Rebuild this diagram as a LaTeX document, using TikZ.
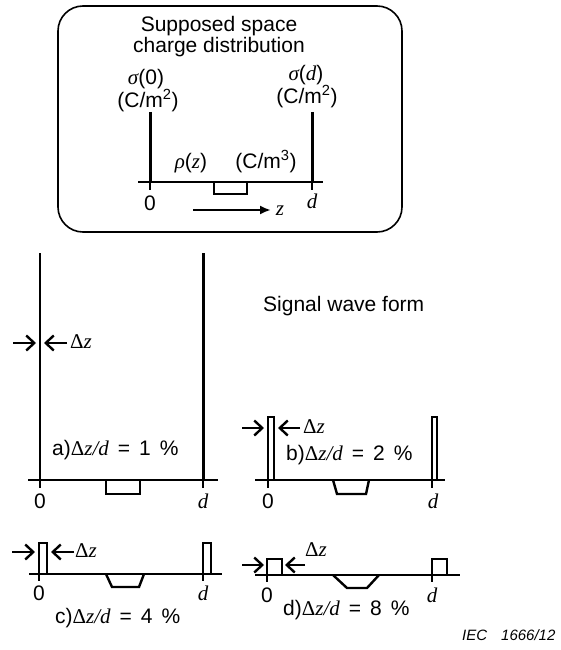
\documentclass[tikz,border=0pt]{standalone}
\usepackage{fontspec}
\setmainfont{Liberation Sans}
\newfontfamily\tms{Liberation Serif}
\usetikzlibrary{arrows.meta}
\newcommand{\vz}{{\tms\itshape z}}
\newcommand{\vd}{{\tms\itshape d}}
\newcommand{\dz}{{\tms Δ\itshape z}}
\newcommand{\dzd}{{\tms Δ\itshape z/d}}
\newcommand{\gap}{\hspace{9pt}}

\begin{document}
\begin{tikzpicture}[x=1pt,y=-1pt,
  lbl/.style={inner sep=0pt,anchor=base,font=\fontsize{21}{21}\selectfont},
  lbll/.style={lbl,anchor=base west},
  frame/.style={draw,line width=1.6pt,rounded corners=25pt,
    minimum width=344pt,minimum height=226pt},
  axis/.style={line width=2pt},
  tick/.style={line width=1.3pt},
  sheet/.style={line width=3pt},
  pulse/.style={line width=1.8pt},
  charge/.style={line width=2.4pt},
  pointer/.style={-{Straight Barb[length=8pt,width=15pt]},line width=2.4pt},
  zarrow/.style={-{Latex[length=11pt,width=9pt]},line width=2.6pt}
]
  \useasboundingbox (0,0) rectangle (560,650);

  % supposed distribution
  \node[frame] (box) at (230,119) {};
  \node[lbl] (title1) at (219,32) {Supposed space};
  \node[lbl] (title2) at (219,53) {charge distribution};
  \node[lbl] (sig0) at (146,85) {{\tms\itshape σ}(0)};
  \node[lbl] (unit0) at (148,107) {(C/m\textsuperscript{2})};
  \node[lbl] (sigd) at (306,81) {{\tms\itshape σ}({\tms\itshape d})};
  \node[lbl] (unitd) at (307,103) {(C/m\textsuperscript{2})};
  \node[lbl] (rho) at (191,168) {{\tms\itshape ρ}(\vz)};
  \node[lbl] (unitrho) at (266,168) {(C/m\textsuperscript{3})};
  \draw[axis] (138,182) -- (323,182);
  \draw[sheet] (150,112) -- (150,182);
  \draw[sheet] (312,112) -- (312,182);
  \draw[tick] (150,182) -- (150,190);
  \draw[tick] (312,182) -- (312,190);
  \draw[charge] (214,182) -- (214,194) -- (247,194) -- (247,182);
  \node[lbl] (zero0) at (150,210) {0};
  \node[lbl] (d0) at (312,208) {\vd};
  \coordinate (zfrom) at (193,210);
  \node[lbl] (zlab) at (280,215) {\vz};
  \draw[zarrow] (zfrom) -- (271,210);

  \node[lbll] (signal) at (263,311) {Signal wave form};

  % a) 1 %
  \draw[axis] (28,480) -- (218,480);
  \draw[line width=2.4pt] (40,253) -- (40,480);
  \draw[sheet] (203,253) -- (203,480);
  \draw[tick] (40,480) -- (40,488);
  \draw[tick] (203,480) -- (203,488);
  \draw[charge] (106,480) -- (106,494) -- (140,494) -- (140,480);
  \draw[pointer] (13,343) -- (36,343);
  \draw[pointer] (67,343) -- (44,343);
  \node[lbll] (dza) at (70,348) {\dz};
  \node[lbll] (capa) at (52,455) {a)\dzd\gap=\gap1\gap\%};
  \node[lbl] (zeroa) at (40,508) {0};
  \node[lbl] (da) at (203,508) {\vd};

  % b) 2 %
  \draw[axis] (255,480) -- (445,480);
  \draw[pulse] (268,480) -- (268,417) -- (274,417) -- (274,480);
  \draw[pulse] (432,480) -- (432,417) -- (437,417) -- (437,480);
  \draw[tick] (268,480) -- (268,488);
  \draw[tick] (432,480) -- (432,488);
  \draw[charge] (333,480) -- (337,494) -- (366,494) -- (369,480);
  \draw[pointer] (242,428) -- (264,428);
  \draw[pointer] (300,428) -- (278,428);
  \node[lbll] (dzb) at (303,433) {\dz};
  \node[lbll] (capb) at (286,460) {b)\dzd\gap=\gap2\gap\%};
  \node[lbl] (zerob) at (268,508) {0};
  \node[lbl] (db) at (433,508) {\vd};

  % c) 4 %
  \draw[axis] (29,574) -- (222,574);
  \draw[pulse] (39,574) -- (39,543) -- (47,543) -- (47,574);
  \draw[pulse] (203,574) -- (203,543) -- (211,543) -- (211,574);
  \draw[tick] (39,574) -- (39,581);
  \draw[tick] (203,574) -- (203,581);
  \draw[charge] (106,574) -- (112,587) -- (139,587) -- (144,574);
  \draw[pointer] (12,552) -- (35,552);
  \draw[pointer] (74,552) -- (51,552);
  \node[lbll] (dzc) at (75,557) {\dz};
  \node[lbl] (zeroc) at (39,600) {0};
  \node[lbl] (dc) at (203,600) {\vd};
  \node[lbll] (capc) at (55,623) {c)\dzd\gap=\gap4\gap\%};

  % d) 8 %
  \draw[axis] (255,575) -- (460,575);
  \draw[pulse] (267,575) -- (267,559) -- (282,559) -- (282,575);
  \draw[pulse] (432,575) -- (432,559) -- (447,559) -- (447,575);
  \draw[tick] (267,575) -- (267,582);
  \draw[tick] (432,575) -- (432,582);
  \draw[charge] (333,575) -- (347,588) -- (367,588) -- (379,575);
  \draw[pointer] (242,565) -- (264,565);
  \draw[pointer] (305,565) -- (285,565);
  \node[lbll] (dzd) at (305,556) {\dz};
  \node[lbl] (zerod) at (267,602) {0};
  \node[lbl] (dd) at (432,602) {\vd};
  \node[lbll] (capd) at (283,615) {d)\dzd\gap=\gap8\gap\%};

  \node[inner sep=0pt,anchor=base west,font=\fontsize{15}{15}\selectfont\itshape]
    (iec) at (462,640) {IEC\hspace{14pt}1666/12};
\end{tikzpicture}
\end{document}
